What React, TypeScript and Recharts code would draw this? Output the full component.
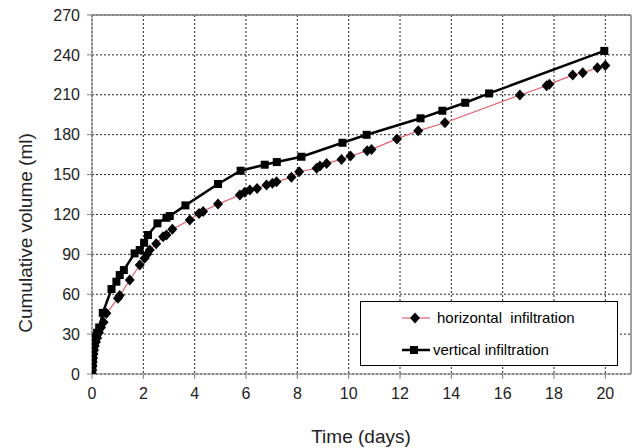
import React from "react"
import { LineChart, Line, XAxis, YAxis, CartesianGrid, ReferenceLine } from "recharts"

// horizontal infiltration (diamonds)
const hTime = [
  0, 0.01, 0.02, 0.03, 0.04, 0.06, 0.08, 0.11, 0.15, 0.2, 0.27, 0.35, 0.45, 0.56, 1.01, 1.08, 1.47, 1.86, 2.05,
  2.15, 2.25, 2.5, 2.77, 2.9, 3.13, 3.81, 4.17, 4.33, 4.91, 5.76, 5.95, 6.15, 6.43, 6.8, 7.03, 7.19, 7.77, 8.07,
  8.75, 8.88, 9.14, 9.72, 10.07, 10.72, 10.89, 11.88, 12.71, 13.75, 16.67, 17.71, 17.82, 18.73, 19.12, 19.69, 20.0,
]
const hVol = [
  0, 3, 6, 9, 12, 15, 18, 21, 24, 27, 31, 35, 39, 45.6, 56.9, 59, 70.7, 82, 87, 90, 93.2, 98, 103.2, 104.5, 108.8,
  115.8, 120.8, 122.3, 127.8, 134.6, 136.6, 138.3, 139.6, 142.1, 143.4, 144.6, 147.9, 152.1, 154.7, 156.4, 158.4,
  161.4, 163.9, 167.9, 168.9, 176.8, 182.9, 189, 209.8, 216.8, 218, 224.8, 226.5, 230.3, 232,
]

// vertical infiltration (squares)
const vTime = [
  0, 0.01, 0.02, 0.03, 0.04, 0.05, 0.07, 0.1, 0.14, 0.2, 0.28, 0.42, 0.76, 0.95, 1.08, 1.24, 1.66, 1.86, 2.03, 2.18,
  2.55, 2.9, 3.03, 3.64, 4.91, 5.79, 6.73, 7.2, 8.16, 9.76, 10.7, 12.8, 13.65, 14.54, 15.47, 19.96,
]
const vVol = [
  0, 4, 8, 12, 16, 19, 22, 25, 28, 31, 35, 46, 63.9, 69.4, 74.4, 78.2, 90.7, 93.2, 98.7, 104.5, 113.3, 117.5, 118.8,
  126.8, 142.9, 152.9, 157.4, 159.4, 163.4, 173.9, 179.9, 192.3, 198, 204, 211, 243,
]

const xTicks = [0, 2, 4, 6, 8, 10, 12, 14, 16, 18, 20]
const yTicks = [0, 30, 60, 90, 120, 150, 180, 210, 240, 270]

const FONT = "'Liberation Sans', Arial, sans-serif"
const PINK = "#e0606e"

const horizontal = hTime.map((t, i) => ({ t, v: hVol[i] }))
const vertical = vTime.map((t, i) => ({ t, v: vVol[i] }))

const Diamond = (props: any) => {
  const { cx, cy, index } = props
  if (cx == null || cy == null) return <g key={index} />
  return <path key={index} d={`M${cx},${cy - 5.5}L${cx + 5},${cy}L${cx},${cy + 5.5}L${cx - 5},${cy}Z`} fill="#000" />
}

const Square = (props: any) => {
  const { cx, cy, index } = props
  if (cx == null || cy == null) return <g key={index} />
  return <rect key={index} x={cx - 4} y={cy - 4} width={8} height={8} fill="#000" />
}

const YTitle = () => (
  <text
    transform="translate(25,233) rotate(-90)"
    textAnchor="middle"
    dominantBaseline="central"
    fontSize={19}
    fontFamily={FONT}
    fill="#222"
  >
    Cumulative volume (ml)
  </text>
)

const XTitle = () => (
  <text x={361} y={436} textAnchor="middle" dominantBaseline="central" fontSize={19} fontFamily={FONT} fill="#222">
    Time (days)
  </text>
)

const LegendBox = () => (
  <div
    style={{
      position: "absolute",
      left: 360,
      top: 301,
      width: 256,
      height: 63,
      border: "1px solid #000",
      background: "#fff",
      fontFamily: FONT,
      fontSize: 15,
      color: "#000",
    }}
  >
    <svg style={{ position: "absolute", left: 0, top: 0 }} width={256} height={63}>
      <line x1={41} x2={69} y1={16} y2={16} stroke={PINK} strokeWidth={1.2} />
      <path d="M54,10.5L59,16L54,21.5L49,16Z" fill="#000" />
      <line x1={41} x2={69} y1={48} y2={48} stroke="#000" strokeWidth={2.5} />
      <rect x={49} y={44} width={8} height={8} fill="#000" />
    </svg>
    <div style={{ position: "absolute", left: 76, top: 7, whiteSpace: "pre" }}>horizontal  infiltration</div>
    <div style={{ position: "absolute", left: 72, top: 39, whiteSpace: "pre" }}>vertical infiltration</div>
  </div>
)

export default function App() {
  return (
    <div style={{ position: "absolute", left: 0, top: 0, width: 634, height: 448, background: "#fff" }}>
      <LineChart width={634} height={448} margin={{ top: 15, right: 3, left: 0, bottom: 0 }}>
        <CartesianGrid stroke="#222" strokeDasharray="2 2" horizontalValues={yTicks} verticalValues={xTicks} />
        <XAxis
          type="number"
          dataKey="t"
          domain={[0, 21]}
          ticks={xTicks}
          allowDataOverflow
          height={74}
          stroke="#808080"
          tickSize={5}
          tickMargin={9}
          tick={{ fill: "#222", fontSize: 16, fontFamily: FONT }}
          label={XTitle}
        />
        <YAxis
          type="number"
          dataKey="v"
          domain={[0, 270]}
          ticks={yTicks}
          allowDataOverflow
          width={92}
          stroke="#808080"
          tickSize={5}
          tickMargin={7}
          tick={{ fill: "#222", fontSize: 16, fontFamily: FONT }}
          label={YTitle}
        />
        <ReferenceLine y={270} stroke="#808080" strokeWidth={1.5} />
        <ReferenceLine x={21} stroke="#808080" strokeWidth={1.5} />
        <Line
          data={horizontal}
          dataKey="v"
          stroke={PINK}
          strokeWidth={1.2}
          dot={Diamond}
          activeDot={false}
          isAnimationActive={false}
        />
        <Line
          data={vertical}
          dataKey="v"
          stroke="#000"
          strokeWidth={2.5}
          dot={Square}
          activeDot={false}
          isAnimationActive={false}
        />
      </LineChart>
      <LegendBox />
    </div>
  )
}
